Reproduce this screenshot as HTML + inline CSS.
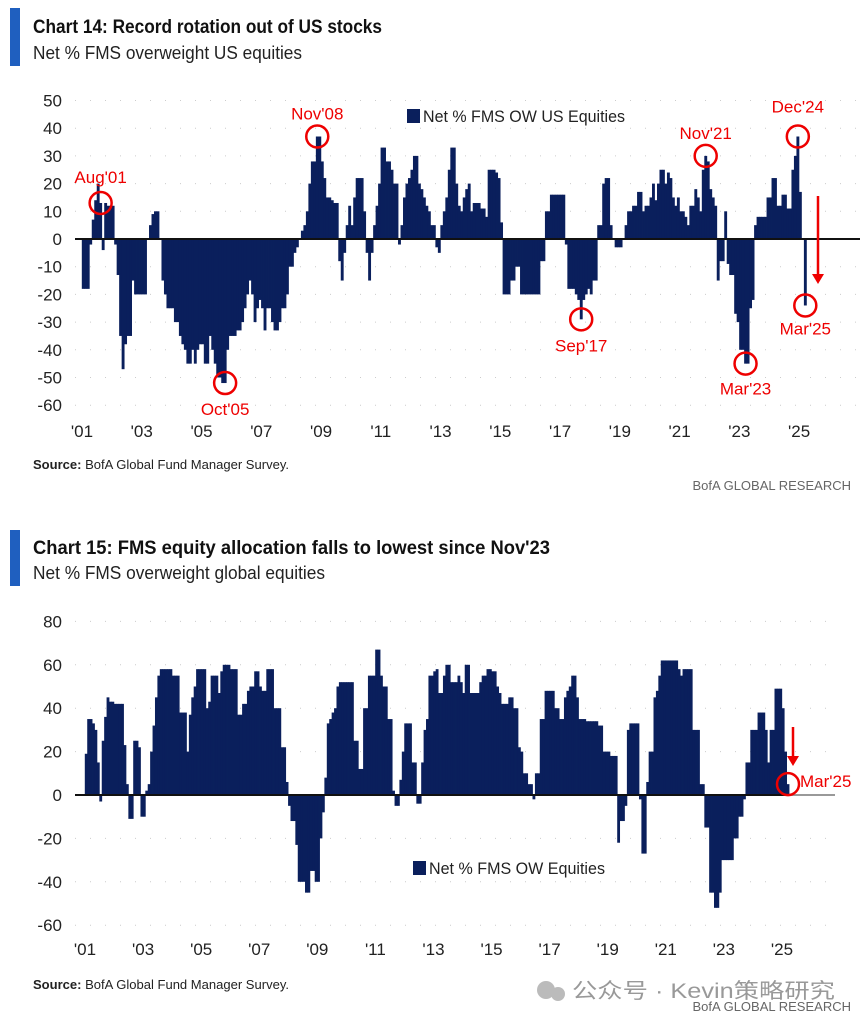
<!DOCTYPE html>
<html><head><meta charset="utf-8"><style>
body{margin:0;background:#fff;width:865px;height:1025px;overflow:hidden}
svg{display:block;font-family:"Liberation Sans Narrow","Liberation Sans","Noto Sans CJK SC",sans-serif}
</style></head><body>
<svg id="s" width="865" height="1025" viewBox="0 0 865 1025">
<rect x="10" y="8" width="10" height="58" fill="#1f5fbf"/>
<text x="33" y="33" font-size="19" font-weight="bold" fill="#111" textLength="349" lengthAdjust="spacingAndGlyphs">Chart 14: Record rotation out of US stocks</text>
<text x="33" y="59" font-size="18" fill="#222" textLength="269" lengthAdjust="spacingAndGlyphs">Net % FMS overweight US equities</text>
<text x="33" y="469" font-size="12.5" fill="#222" textLength="256" lengthAdjust="spacingAndGlyphs"><tspan font-weight="bold">Source:</tspan> BofA Global Fund Manager Survey.</text>
<text x="851" y="490" font-size="13" fill="#666" text-anchor="end">BofA GLOBAL RESEARCH</text>
<rect x="10" y="530" width="10" height="56" fill="#1f5fbf"/>
<text x="33" y="554" font-size="19" font-weight="bold" fill="#111" textLength="517" lengthAdjust="spacingAndGlyphs">Chart 15: FMS equity allocation falls to lowest since Nov'23</text>
<text x="33" y="579" font-size="18" fill="#222" textLength="292" lengthAdjust="spacingAndGlyphs">Net % FMS overweight global equities</text>
<text x="33" y="989" font-size="12.5" fill="#222" textLength="256" lengthAdjust="spacingAndGlyphs"><tspan font-weight="bold">Source:</tspan> BofA Global Fund Manager Survey.</text>
<text x="851" y="1011" font-size="13" fill="#666" text-anchor="end">BofA GLOBAL RESEARCH</text>
<g fill="#999">
<circle cx="546" cy="990" r="9" fill="#bbb"/><circle cx="558" cy="994" r="7" fill="#bbb"/>
<text x="572" y="998" font-size="21" textLength="263" lengthAdjust="spacingAndGlyphs" font-family="Liberation Sans,Noto Sans CJK SC,sans-serif">公众号 · Kevin策略研究</text></g>
<g id="c1"></g>
<g id="c2"></g>
</svg>
<script>
const years = ["'01","'03","'05","'07","'09","'11","'13","'15","'17","'19","'21","'23","'25"];
const ticks1 = [50,40,30,20,10,0,-10,-20,-30,-40,-50,-60];
const ticks2 = [80,60,40,20,0,-20,-40,-60];
const usEq = [
-18,-18,-18,-2,7,14,20,13,-4,13,12,12,
12,-2,-13,-35,-47,-38,-35,-35,-15,-20,-20,-20,
-20,-20,0,5,9,10,10,0,-15,-20,-25,-25,
-25,-30,-30,-35,-38,-40,-45,-45,-40,-45,-40,-38,
-38,-45,-45,-35,-40,-45,-50,-50,-52,-52,-40,-35,
-35,-35,-33,-33,-30,-25,-20,-15,-20,-30,-25,-22,
-25,-33,-25,-25,-30,-33,-33,-30,-25,-25,-20,-10,
-10,-5,-3,0,3,5,10,20,28,28,37,37,
28,22,15,15,14,13,13,-8,-15,-5,5,12,
5,15,22,22,22,10,-5,-15,-5,5,12,20,
33,33,28,28,25,20,20,-2,5,15,20,22,
25,30,30,20,18,15,12,10,5,5,-3,-5,
5,10,15,25,33,33,20,12,10,15,18,20,
10,13,13,13,11,11,8,25,25,25,24,22,
6,-20,-20,-20,-15,-15,-10,-10,-20,-20,-20,-20,
-20,-20,-20,-20,-8,-8,10,10,16,16,16,16,
16,16,-2,-18,-18,-18,-20,-22,-29,-22,-20,-18,
-20,-15,-15,5,5,20,22,22,5,0,-3,-3,
-3,0,5,10,10,12,12,17,17,10,12,12,
15,20,14,20,25,25,20,24,22,15,12,15,
10,10,8,5,12,12,18,15,10,25,30,28,
18,15,12,-15,-8,-8,10,-9,-13,-13,-27,-30,
-40,-40,-45,-45,-25,-22,5,8,8,8,8,15,
15,22,22,12,12,16,16,11,11,25,30,37,
17,0,-24];
const glEq = [
19,35,35,33,30,15,-3,25,36,45,43,43,
42,42,42,42,23,5,-11,-11,25,25,22,-10,
-10,2,5,20,32,45,55,58,58,58,58,58,
55,55,55,38,38,38,20,37,45,50,58,58,
58,58,40,43,55,55,55,47,57,60,60,60,
58,58,58,37,37,42,42,48,50,50,57,57,
50,48,48,58,58,58,40,40,40,22,22,6,
-5,-12,-12,-23,-40,-40,-40,-45,-45,-35,-35,-40,
-40,-20,-8,8,33,35,38,40,50,52,52,52,
52,52,52,25,25,12,12,40,40,55,55,55,
67,67,55,50,50,35,35,2,-5,-5,7,20,
33,33,33,15,15,-4,-4,15,30,35,55,55,
57,58,47,47,55,60,60,52,52,52,55,52,
47,60,60,47,47,47,47,52,55,55,58,58,
57,57,50,47,42,42,42,45,45,40,40,22,
20,10,10,5,5,-2,10,10,35,35,48,48,
48,48,40,40,35,35,45,48,50,55,55,45,
35,35,35,34,34,34,34,34,32,32,20,20,
20,18,18,18,-22,-12,-12,-5,30,33,33,33,
33,-2,-27,-27,6,20,20,45,48,55,62,62,
62,62,62,62,62,58,55,58,58,58,58,30,
30,30,5,5,-15,-15,-45,-45,-52,-52,-45,-30,
-30,-30,-30,-30,-20,-20,-10,-10,-2,15,15,30,
30,30,38,38,38,30,15,30,30,49,49,49,
40,20,5];
const NS='http://www.w3.org/2000/svg';
function mk(p,tag,a){const e=document.createElementNS(NS,tag);for(const k in a)e.setAttribute(k,a[k]);p.appendChild(e);return e;}
function chart(g,cfg,data,ticks){
  const x=i=>cfg.x0+i*cfg.pm;
  const y=v=>cfg.y0-v*cfg.pu;
  ticks.forEach(t=>{
    const gl=mk(g,'line',{x1:75,x2:cfg.xe,y1:y(t),y2:y(t),stroke:'#ccc','stroke-width':1,'stroke-dasharray':'1 14'});
    
    
    const tl=mk(g,'text',{x:62,y:y(t)+6,'font-size':17,fill:'#222','text-anchor':'end'});
    tl.textContent=t;
    
    
  });
  years.forEach((l,k)=>{
    const t=mk(g,'text',{x:x(k*24),y:cfg.xl,'font-size':17,fill:'#222','text-anchor':'middle'});
    t.textContent=l;
    
    
  });
  data.forEach((v,i)=>{
    const b=mk(g,'rect',{x:x(i)-0.2,y:Math.min(y(v),y(0)),width:cfg.pm+0.4,height:Math.abs(y(v)-y(0)),fill:'#0a1f5c'});
    
    
  });
  const z=mk(g,'line',{x1:75,x2:cfg.ze,y1:y(0),y2:y(0),stroke:'#111','stroke-width':2});
  
  
  return {x,y};
}
const c1=document.getElementById('c1'),c2=document.getElementById('c2');
const a1=chart(c1,{x0:82,pm:2.49,y0:239,pu:2.77,xe:860,ze:860,xl:437},usEq,ticks1);
const a2=chart(c2,{x0:85,pm:2.42,y0:795,pu:2.17,xe:835,ze:787,xl:955},glEq,ticks2);
mk(c2,'line',{x1:787,x2:835,y1:795,y2:795,stroke:'#999','stroke-width':2});
function ann(g,ax,i,label,dy,anchor){
  const cx=ax.x(i)+1.2, cy=ax.y((g===c1?usEq:glEq)[i]);
  const c=mk(g,'circle',{cx,cy,r:11,fill:'none',stroke:'#e00','stroke-width':2.5});
  
  
  const t=mk(g,'text',{x:cx,y:cy+dy,'font-size':17,fill:'#e00','text-anchor':anchor||'middle'});
  t.textContent=label;
  
  
}
ann(c1,a1,7,"Aug'01",-20);
ann(c1,a1,57,"Oct'05",32);
ann(c1,a1,94,"Nov'08",-17);
ann(c1,a1,200,"Sep'17",32);
ann(c1,a1,250,"Nov'21",-17);
ann(c1,a1,266,"Mar'23",31);
ann(c1,a1,287,"Dec'24",-24);
ann(c1,a1,290,"Mar'25",29);
ann(c2,a2,290,"",0);
const m2=mk(c2,'text',{x:800,y:787,'font-size':17,fill:'#e00'});m2.textContent="Mar'25";


function arrow(g,x,y1,y2){
  mk(g,'line',{x1:x,x2:x,y1:y1,y2:y2-8,stroke:'#e00','stroke-width':2.5});
  const p=mk(g,'polygon',{points:`${x-6},${y2-10} ${x+6},${y2-10} ${x},${y2}`,fill:'#e00'});
  
  
}
arrow(c1,818,196,284);
arrow(c2,793,727,766);
function legend(g,x,y,label,len){
  const r=mk(g,'rect',{x,y:y-13,width:13,height:14,fill:'#0a1f5c'});
  
  
  const t=mk(g,'text',{x:x+16,y:y,'font-size':17,fill:'#222',textLength:len,lengthAdjust:'spacingAndGlyphs'});t.textContent=label;
  
  
}
legend(c1,407,122,"Net % FMS OW US Equities",202);
legend(c2,413,874,"Net % FMS OW Equities",176);
</script>
</body></html>
